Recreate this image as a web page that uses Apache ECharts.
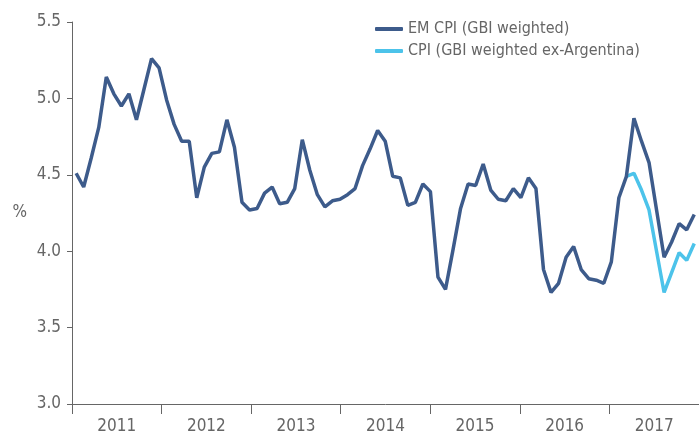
<!DOCTYPE html>
<html>
<head>
<meta charset="utf-8">
<script src="https://cdn.jsdelivr.net/npm/echarts@6/dist/echarts.min.js"></script>
<style>
  html, body { margin: 0; padding: 0; background: #fff; }
  #main { width: 699px; height: 437px; }
</style>
</head>
<body>
<div id="main"></div>
<script>
// years on the axis
var years = ['2011', '2012', '2013', '2014', '2015', '2016', '2017'];

// monthly readings from Jan 2011, %
var emCpi = [
  4.51, 4.42, 4.61, 4.81, 5.14, 5.03, 4.95, 5.03, 4.86, 5.06, 5.26, 5.20,
  4.99, 4.83, 4.72, 4.72, 4.35, 4.55, 4.64, 4.65, 4.86, 4.68, 4.32, 4.27,
  4.28, 4.38, 4.42, 4.31, 4.32, 4.41, 4.73, 4.53, 4.37, 4.29, 4.33, 4.34,
  4.37, 4.41, 4.56, 4.67, 4.79, 4.72, 4.49, 4.48, 4.30, 4.32, 4.44, 4.39,
  3.83, 3.75, 4.01, 4.28, 4.44, 4.43, 4.57, 4.40, 4.34, 4.33, 4.41, 4.35,
  4.48, 4.41, 3.88, 3.73, 3.79, 3.96, 4.03, 3.88, 3.82, 3.81, 3.79, 3.93,
  4.35, 4.49, 4.87, 4.72, 4.58, 4.27, 3.96, 4.06, 4.18, 4.14, 4.24
];

// ex-Argentina series only differs from month 73 on
var exArgStart = 73;
var exArg = [4.49, 4.51, 4.40, 4.27, 4.00, 3.73, 3.86, 3.99, 3.94, 4.05];

var yTicks = [3.0, 3.5, 4.0, 4.5, 5.0, 5.5];

var font = "'Liberation Sans Narrow', 'DejaVu Sans Condensed', 'Roboto', sans-serif";
var grey = '#666666';

var emData = emCpi.map(function (v, i) { return [i, v]; });
var exData = exArg.map(function (v, i) { return [exArgStart + i, v]; });

var chart = echarts.init(document.getElementById('main'));
chart.setOption({
  animation: false,
  backgroundColor: '#fff',
  grid: { left: 72, top: 22, width: 633, height: 382 },
  legend: {
    orient: 'vertical',
    left: 370,
    top: 15,
    itemWidth: 28,
    itemHeight: 4,
    itemGap: 4,
    icon: 'roundRect',
    textStyle: { fontFamily: font, fontSize: 16, color: grey, lineHeight: 18 },
    data: ['EM CPI (GBI weighted)', 'CPI (GBI weighted ex-Argentina)']
  },
  xAxis: [
    {
      type: 'category',
      data: years,
      boundaryGap: true,
      axisLine: { onZero: false, lineStyle: { color: grey, width: 1 } },
      axisTick: { show: true, interval: 0, length: 10, lineStyle: { color: grey } },
      axisLabel: { fontFamily: font, fontSize: 17, color: grey, margin: 14 }
    },
    {
      type: 'value',
      show: false,
      min: -0.55,
      max: -0.55 + 633 / 7.61
    }
  ],
  yAxis: {
    type: 'value',
    min: yTicks[0],
    max: yTicks[yTicks.length - 1],
    interval: 0.5,
    name: '%',
    nameLocation: 'middle',
    nameRotate: 0,
    nameGap: 45,
    nameTextStyle: { fontFamily: font, fontSize: 17, color: grey },
    axisLine: { show: true, onZero: false, lineStyle: { color: grey, width: 1 } },
    axisTick: { show: true, length: 5, lineStyle: { color: grey } },
    splitLine: { show: false },
    axisLabel: {
      fontFamily: font, fontSize: 17, color: grey, margin: 11,
      formatter: function (v) { return v.toFixed(1); }
    }
  },
  series: [
    {
      name: 'EM CPI (GBI weighted)',
      type: 'line',
      xAxisIndex: 1,
      data: emData,
      symbol: 'none',
      z: 3,
      color: '#3d5b8b',
      lineStyle: { width: 3.5, color: '#3d5b8b' }
    },
    {
      name: 'CPI (GBI weighted ex-Argentina)',
      type: 'line',
      xAxisIndex: 1,
      data: exData,
      symbol: 'none',
      z: 2,
      color: '#4cc3ea',
      lineStyle: { width: 3.5, color: '#4cc3ea' }
    }
  ]
});
</script>
</body>
</html>
